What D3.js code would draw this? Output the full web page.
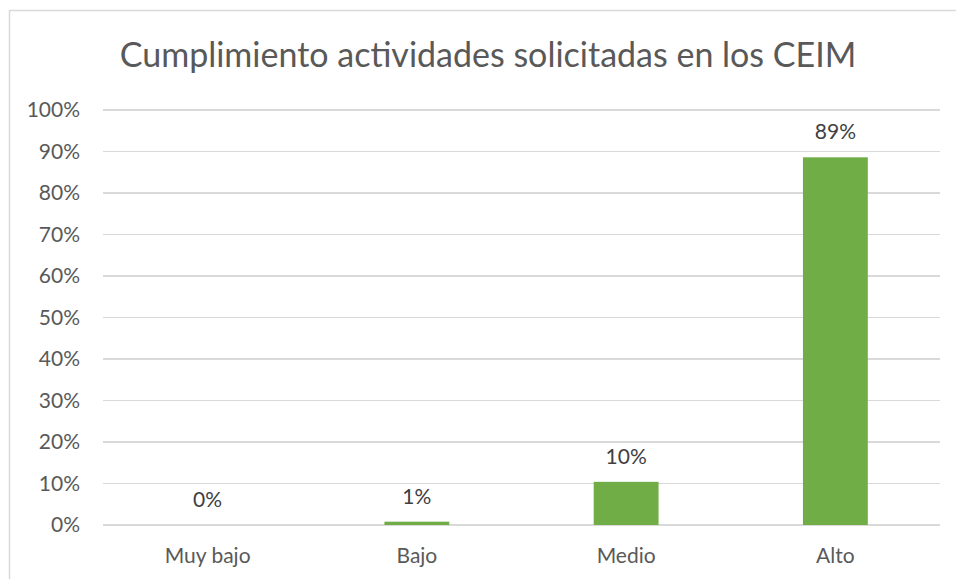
<!DOCTYPE html>
<html lang="es">
<head>
<meta charset="utf-8">
<script src="https://cdn.jsdelivr.net/npm/d3@7"></script>
<style type="text/css">
body {
	margin: 0;
	background-color: #ffffff;
	font-family: Lato, sans-serif;
}
.grid line {
	stroke: #d9d9d9;
	stroke-width: 1.5;
	shape-rendering: crispEdges;
}
</style>
</head>
<body>
<script type="text/javascript">

// chart data
var categories = ["Muy bajo", "Bajo", "Medio", "Alto"];
var values = [0, 0.008, 0.104, 0.886];
var labels = ["0%", "1%", "10%", "89%"];
var yTicks = [0, 0.1, 0.2, 0.3, 0.4, 0.5, 0.6, 0.7, 0.8, 0.9, 1.0];

var width = 956, height = 579;
var margin = {top: 110, left: 103, right: 16, bottom: 54};

var svg = d3.select("body").append("svg")
	.attr("width", width)
	.attr("height", height);

// outer chart border (runs off the right and bottom edges)
svg.append("rect")
	.attr("x", 9.5).attr("y", 10.5)
	.attr("width", 1000).attr("height", 650)
	.style("fill", "none")
	.style("stroke", "#d9d9d9")
	.style("stroke-width", 1.5);

var x = d3.scaleBand()
	.domain(categories)
	.range([margin.left, width - margin.right]);

var y = d3.scaleLinear()
	.domain([0, 1])
	.range([525, 110]);

// gridlines
svg.append("g").attr("class", "grid")
	.selectAll("line")
	.data(yTicks)
	.enter().append("line")
	.attr("x1", margin.left)
	.attr("x2", 940)
	.attr("y1", function(d) { return y(d); })
	.attr("y2", function(d) { return y(d); });

// y tick labels
svg.append("g")
	.selectAll("text")
	.data(yTicks)
	.enter().append("text")
	.attr("x", 80)
	.attr("y", function(d) { return y(d); })
	.attr("dy", "0.35em")
	.attr("text-anchor", "end")
	.style("font-size", "21px")
	.style("fill", "#595959")
	.text(d3.format(".0%"));

var barW = x.bandwidth() * 0.31;

// bars
svg.append("g")
	.selectAll("rect")
	.data(values)
	.enter().append("rect")
	.attr("x", function(d, i) { return x(categories[i]) + x.bandwidth() / 2 - barW / 2; })
	.attr("width", barW)
	.attr("y", function(d) { return y(d); })
	.attr("height", function(d) { return y(0) - y(d); })
	.style("fill", "#70ad47");

// data labels
svg.append("g")
	.selectAll("text")
	.data(values)
	.enter().append("text")
	.attr("x", function(d, i) { return x(categories[i]) + x.bandwidth() / 2; })
	.attr("y", function(d) { return y(d) - 18; })
	.attr("text-anchor", "middle")
	.style("font-size", "21px")
	.style("fill", "#404040")
	.text(function(d, i) { return labels[i]; });

// category labels
svg.append("g")
	.selectAll("text")
	.data(categories)
	.enter().append("text")
	.attr("x", function(d) { return x(d) + x.bandwidth() / 2; })
	.attr("y", 563)
	.attr("text-anchor", "middle")
	.style("font-size", "21px")
	.style("fill", "#595959")
	.text(function(d) { return d; });

// title
svg.append("text")
	.attr("x", 488)
	.attr("y", 67)
	.attr("text-anchor", "middle")
	.style("font-size", "34px")
	.style("fill", "#595959")
	.text("Cumplimiento actividades solicitadas en los CEIM");

</script>
</body>
</html>
